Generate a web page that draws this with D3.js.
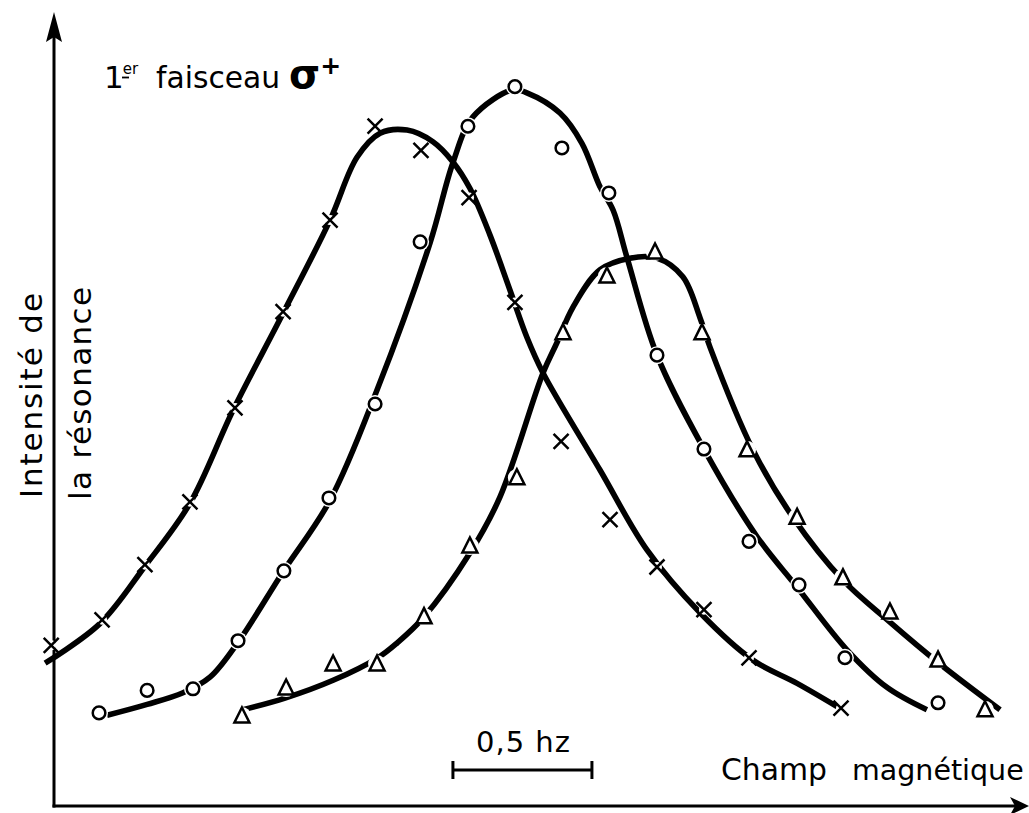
<!DOCTYPE html>
<html><head><meta charset="utf-8">
<script src="https://cdn.jsdelivr.net/npm/d3@7"></script>
<style>html,body{margin:0;padding:0;background:#fff;overflow:hidden;} svg{display:block;}</style>
</head><body>
<svg id="chart" width="1029" height="813"></svg>
<script>
// ---- data (x: magnetic field offset in Hz, y: resonance intensity, arbitrary units) ----
const crossPts = [[-0.01,20.7],[0.173,24.0],[0.327,31.1],[0.489,39.2],[0.651,51.3],[0.824,63.7],[0.993,75.5],[1.155,87.6],[1.320,84.5],[1.493,78.4],[1.658,64.9],[1.824,47.0],[2.000,36.9],[2.169,30.8],[2.338,25.3],[2.500,19.1],[2.831,12.6]];
const crossFit = [[-0.032,18.4],[0.165,23.5],[0.327,30.9],[0.489,39.0],[0.644,51.0],[0.824,63.5],[0.993,75.5],[1.090,83.6],[1.173,86.7],[1.270,87.1],[1.363,85.6],[1.435,83.0],[1.496,79.6],[1.568,73.6],[1.640,66.5],[1.701,60.4],[1.759,55.8],[1.964,43.3],[2.133,33.0],[2.324,24.9],[2.514,18.8],[2.673,15.8],[2.817,12.8]];
const circlePts = [[0.162,12.0],[0.335,14.9],[0.5,15.1],[0.662,21.3],[0.827,30.3],[0.989,39.7],[1.155,51.8],[1.317,72.7],[1.489,87.6],[1.658,92.7],[1.827,84.8],[1.996,79.0],[2.169,58.1],[2.338,46.0],[2.5,34.1],[2.680,28.5],[2.845,19.1],[3.180,13.3]];
const circleFit = [[0.191,11.7],[0.335,13.1],[0.464,14.6],[0.561,16.6],[0.662,21.1],[0.824,30.2],[0.993,39.4],[1.162,53.6],[1.353,72.6],[1.435,82.9],[1.507,88.8],[1.651,92.3],[1.701,91.9],[1.820,89.3],[1.899,85.4],[1.964,79.8],[2.011,76.8],[2.061,70.7],[2.169,58.1],[2.338,46.0],[2.529,34.7],[2.673,28.2],[2.853,20.1],[2.996,15.3],[3.140,12.4]];
const trianglePts = [[0.676,11.6],[0.835,15.2],[1.004,18.3],[1.162,18.3],[1.331,24.4],[1.496,33.5],[1.665,42.3],[1.831,61.0],[1.989,68.3],[2.162,71.4],[2.331,61.0],[2.493,45.9],[2.673,37.2],[2.838,29.4],[3.007,25.0],[3.180,18.8],[3.349,12.4]];
const triangleFit = [[0.680,12.4],[0.831,13.9],[1.004,16.2],[1.165,19.1],[1.234,21.0],[1.327,24.2],[1.496,32.6],[1.604,39.8],[1.759,55.8],[1.809,59.7],[1.867,64.3],[1.964,69.1],[2.072,70.6],[2.169,70.6],[2.262,68.2],[2.324,62.9],[2.360,59.1],[2.514,45.9],[2.658,37.2],[2.838,29.1],[3.007,23.7],[3.187,18.3],[3.403,12.4]];
const scaleBarHz = [1.435, 1.935];
const scaleBarLabel = "0,5 hz";
const xLabelWords = ["Champ", "magnétique"];
const yLabelLines = ["Intensité de", "la résonance"];
const titleParts = ["1", "er", "faisceau", "σ", "+"];

// ---- layout ----
const svg = d3.select("#chart");
const x = d3.scaleLinear().domain([0, 3.5]).range([54, 1027]);
const y = d3.scaleLinear().domain([0, 100]).range([806, 30]);
const FONT = "DejaVu Sans";

// axes
const x0 = x(0), y0 = y(0);
const yTop = 12, xRight = 1029;
svg.append("line").attr("x1", x0).attr("y1", y0 + 1.5).attr("x2", x0).attr("y2", yTop + 20)
  .attr("stroke", "#000").attr("stroke-width", 3);
svg.append("path").attr("d", `M${x0},${yTop} L${x0 + 8},${yTop + 30} L${x0},${yTop + 25} L${x0 - 8},${yTop + 30} Z`).attr("fill", "#000");
svg.append("line").attr("x1", x0 - 1.5).attr("y1", y0).attr("x2", xRight - 12).attr("y2", y0)
  .attr("stroke", "#000").attr("stroke-width", 3);
svg.append("path").attr("d", `M${xRight},${y0} L${xRight - 19},${y0 - 9} L${xRight - 14},${y0} L${xRight - 19},${y0 + 9} Z`).attr("fill", "#000");

// fitted curves
const line = d3.line().x(d => x(d[0])).y(d => y(d[1])).curve(d3.curveCatmullRom.alpha(0.5));
const fits = [crossFit, circleFit, triangleFit];
svg.append("g").selectAll("path").data(fits).join("path")
  .attr("d", line).attr("fill", "none").attr("stroke", "#000")
  .attr("stroke-width", 5.6).attr("stroke-linecap", "butt").attr("stroke-linejoin", "round");

// halos (gaps in the curve around markers)
const halo = svg.append("g");
halo.selectAll(".hx").data(crossPts).join("circle").attr("class", "hx")
  .attr("cx", d => x(d[0])).attr("cy", d => y(d[1])).attr("r", 5).attr("fill", "#fff");
halo.selectAll(".ho").data(circlePts).join("circle").attr("class", "ho")
  .attr("cx", d => x(d[0])).attr("cy", d => y(d[1])).attr("r", 9).attr("fill", "#fff");
halo.selectAll(".ht").data(trianglePts).join("circle").attr("class", "ht")
  .attr("cx", d => x(d[0])).attr("cy", d => y(d[1])).attr("r", 9).attr("fill", "#fff");

// markers
const mk = svg.append("g").attr("stroke", "#000").attr("stroke-width", 2.5);
mk.selectAll(".mx").data(crossPts).join("path").attr("class", "mx")
  .attr("transform", d => `translate(${x(d[0])},${y(d[1])})`)
  .attr("d", "M-7.5,-7.5L7.5,7.5M-7.5,7.5L7.5,-7.5").attr("fill", "none");
mk.selectAll(".mo").data(circlePts).join("circle").attr("class", "mo")
  .attr("cx", d => x(d[0])).attr("cy", d => y(d[1])).attr("r", 6.3).attr("fill", "#fff");
mk.selectAll(".mt").data(trianglePts).join("path").attr("class", "mt")
  .attr("transform", d => `translate(${x(d[0])},${y(d[1])})`)
  .attr("d", "M0,-8.5L7.5,6.5L-7.5,6.5Z").attr("fill", "#fff").attr("stroke-linejoin", "miter");

// scale bar
const sbY = 770;
const sb = svg.append("g").attr("stroke", "#000").attr("stroke-width", 3);
sb.append("line").attr("x1", x(scaleBarHz[0])).attr("x2", x(scaleBarHz[1])).attr("y1", sbY).attr("y2", sbY);
sb.selectAll(".tick").data(scaleBarHz).join("line").attr("class", "tick")
  .attr("x1", d => x(d)).attr("x2", d => x(d)).attr("y1", sbY - 9).attr("y2", sbY + 9);
svg.append("text").attr("x", 476).attr("y", 752).attr("font-family", FONT).attr("font-size", 29)
  .attr("letter-spacing", 1).text(scaleBarLabel);

// x label
svg.append("text").attr("x", 721).attr("y", 780).attr("font-family", FONT).attr("font-size", 30)
  .attr("textLength", 106).attr("lengthAdjust", "spacingAndGlyphs").text(xLabelWords[0]);
svg.append("text").attr("x", 852).attr("y", 780).attr("font-family", FONT).attr("font-size", 28.5)
  .text(xLabelWords[1]);

// y label (two rotated lines)
svg.append("text").attr("transform", "translate(42,498) rotate(-90)").attr("font-family", FONT).attr("font-size", 31)
  .attr("textLength", 205).attr("lengthAdjust", "spacing").text(yLabelLines[0]);
svg.append("text").attr("transform", "translate(91,500) rotate(-90)").attr("font-family", FONT).attr("font-size", 31)
  .attr("textLength", 213).attr("lengthAdjust", "spacing").text(yLabelLines[1]);

// title
const t = svg.append("g").attr("font-family", FONT);
const t1 = t.append("text").attr("x", 104).attr("y", 88).attr("font-size", 31);
t1.append("tspan").text(titleParts[0]);
t1.append("tspan").attr("font-size", 15).attr("dy", -14).attr("dx", -1).text(titleParts[1]);
t.append("line").attr("x1", 122).attr("x2", 129).attr("y1", 77.5).attr("y2", 77.5).attr("stroke", "#000").attr("stroke-width", 1.8);
t.append("text").attr("x", 156).attr("y", 88).attr("font-size", 30)
  .attr("textLength", 124).attr("lengthAdjust", "spacingAndGlyphs").text(titleParts[2]);
const t2 = t.append("text").attr("x", 289).attr("y", 88).attr("font-weight", "bold");
t2.append("tspan").attr("font-size", 40).text(titleParts[3]);
t2.append("tspan").attr("font-size", 25).attr("dy", -14).text(titleParts[4]);
</script>
</body></html>
